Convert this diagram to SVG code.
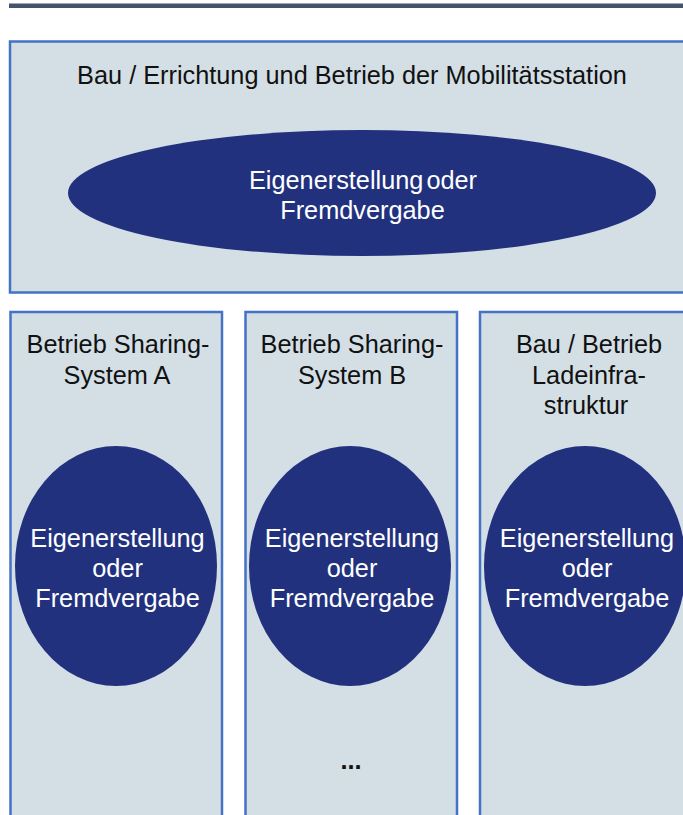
<svg xmlns="http://www.w3.org/2000/svg" width="683" height="815" viewBox="0 0 683 815">
<style>
.box{fill:#d3dfe5;stroke:#4472c4;stroke-width:2.5}
.ell{fill:#22317e}
.t{font-family:"Liberation Sans",Arial,sans-serif;font-size:25.3px;fill:#111;text-anchor:middle}
.w{font-family:"Liberation Sans",Arial,sans-serif;font-size:25.3px;fill:#fff;text-anchor:middle}
</style>
<rect x="0" y="0" width="683" height="815" fill="#fff"/>
<rect x="9" y="3.5" width="680" height="4.5" fill="#44546a"/>
<g id="top">
<rect class="box" x="10" y="41.5" width="685" height="251"/>
<text class="t" x="352" y="83.5">Bau / Errichtung und Betrieb der Mobilitätsstation</text>
<ellipse class="ell" cx="362" cy="193" rx="294" ry="63"/>
<text class="w" x="363" y="188.5" word-spacing="-4">Eigenerstellung oder</text>
<text class="w" x="362.5" y="218.5">Fremdvergabe</text>
</g>
<g id="colA">
<rect class="box" x="10.5" y="312" width="211.5" height="520"/>
<text class="t" x="118" y="352.5">Betrieb Sharing-</text>
<text class="t" x="117" y="383.5">System A</text>
<ellipse class="ell" cx="116" cy="566" rx="101" ry="120"/>
<text class="w" x="117.5" y="546.5">Eigenerstellung</text>
<text class="w" x="117.5" y="576.5">oder</text>
<text class="w" x="117.5" y="606.5">Fremdvergabe</text>
</g>
<g id="colB">
<rect class="box" x="245.5" y="312" width="211.5" height="520"/>
<text class="t" x="352" y="352.5">Betrieb Sharing-</text>
<text class="t" x="352" y="383.5">System B</text>
<ellipse class="ell" cx="350" cy="566" rx="101" ry="120"/>
<text class="w" x="352" y="546.5">Eigenerstellung</text>
<text class="w" x="352" y="576.5">oder</text>
<text class="w" x="352" y="606.5">Fremdvergabe</text>
<text class="t" x="351" y="769" font-weight="bold">...</text>
</g>
<g id="colC">
<rect class="box" x="480" y="312" width="215" height="520"/>
<text class="t" x="589" y="352.5">Bau / Betrieb</text>
<text class="t" x="589" y="383.5">Ladeinfra-</text>
<text class="t" x="586" y="413.5">struktur</text>
<ellipse class="ell" cx="585" cy="566" rx="101" ry="120"/>
<text class="w" x="587" y="546.5">Eigenerstellung</text>
<text class="w" x="587" y="576.5">oder</text>
<text class="w" x="587" y="606.5">Fremdvergabe</text>
</g>
<g id="connectors"></g>
</svg>
